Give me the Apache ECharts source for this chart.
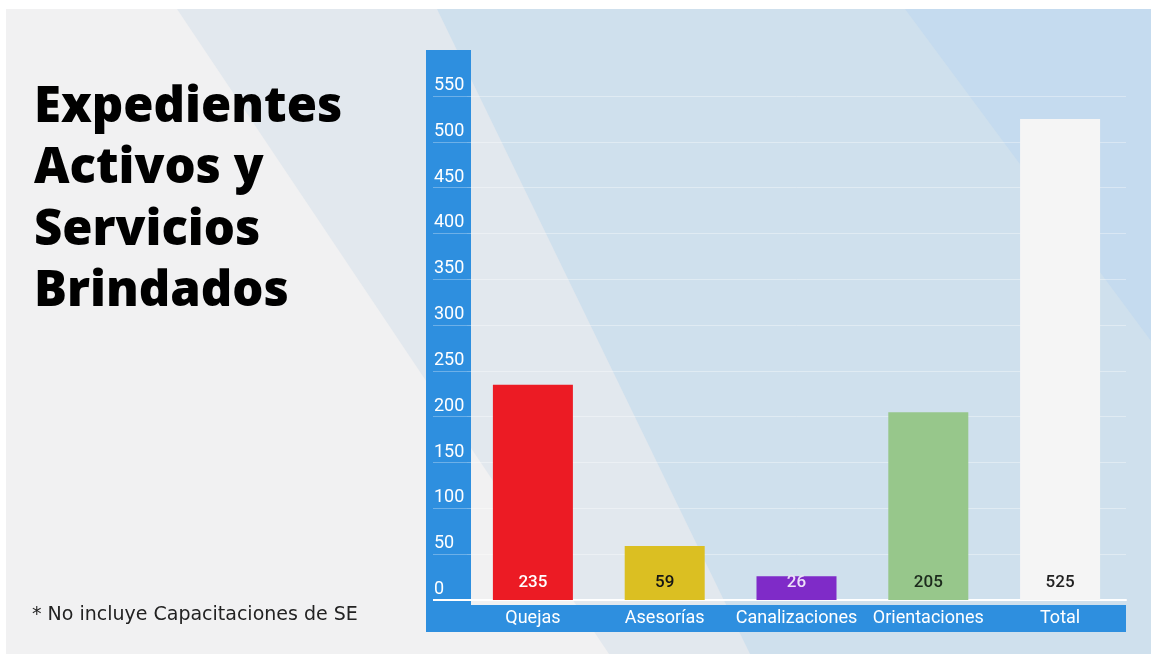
<!DOCTYPE html>
<html>
<head>
<meta charset="utf-8">
<script src="https://cdn.jsdelivr.net/npm/echarts@6/dist/echarts.min.js"></script>
<style>
html,body{margin:0;padding:0;background:#ffffff;}
#c{width:1151px;height:654px;}
</style>
</head>
<body>
<div id="c"></div>
<script>
const categories = ['Quejas', 'Asesorías', 'Canalizaciones', 'Orientaciones', 'Total'];
const values = [235, 59, 26, 205, 525];
const yMin = 0, yMax = 550, yStep = 50;
const titleLines = ['Expedientes', 'Activos y', 'Servicios', 'Brindados'];
const footnote = '* No incluye Capacitaciones de SE';

const barColors = ['#ec1b24', '#dbbf22', '#7f2bc8', '#97c78b', '#f5f5f5'];
const labelColors = ['#ffffff', '#151515', '#ece0f8', '#1c2a1c', '#222222'];

const chart = echarts.init(document.getElementById('c'), null, {renderer: 'canvas'});

const option = {
  backgroundColor: '#ffffff',
  animation: false,
  title: [
    {
      text: titleLines.join('\n'),
      left: 29, top: 72,
      textStyle: {fontFamily: 'Open Sans', fontWeight: 800, fontSize: 49, lineHeight: 61.5, color: '#000000'}
    },
    {
      text: footnote,
      left: 27, top: 601,
      textStyle: {fontFamily: 'DejaVu Sans', fontWeight: 'normal', fontSize: 19, color: '#222222'}
    }
  ],
  graphic: [
    {type: 'rect', z: -100, silent: true, shape: {x: 6, y: 9, width: 1145, height: 645}, style: {fill: '#f1f1f2'}},
    {type: 'polygon', z: -99, silent: true, shape: {points: [[177, 9], [1151, 9], [1151, 654], [609, 654]]}, style: {fill: '#e2e8ee'}},
    {type: 'polygon', z: -98, silent: true, shape: {points: [[437, 9], [1151, 9], [1151, 654], [750, 654]]}, style: {fill: '#cfe0ed'}},
    {type: 'polygon', z: -97, silent: true, shape: {points: [[905, 9], [1151, 9], [1151, 341]]}, style: {fill: '#c5dbef'}},
    {type: 'rect', z: -50, silent: true, shape: {x: 426, y: 50, width: 45, height: 582}, style: {fill: '#2e8fdf'}},
    {type: 'rect', z: -50, silent: true, shape: {x: 426, y: 605, width: 700, height: 27}, style: {fill: '#2e8fdf'}},
    {type: 'line', z: 10, silent: true, shape: {x1: 433, y1: 600, x2: 468, y2: 600}, style: {stroke: '#ffffff', lineWidth: 2}}
  ],
  grid: {left: 467, right: 25, top: 96, bottom: 54, containLabel: false},
  xAxis: {
    type: 'category',
    data: categories,
    axisLine: {show: true, lineStyle: {color: '#ffffff', width: 2}},
    axisTick: {show: false},
    axisLabel: {color: '#ffffff', fontFamily: 'Roboto', fontSize: 18, margin: 9, interval: 0, hideOverlap: false}
  },
  yAxis: {
    type: 'value',
    min: yMin, max: yMax, interval: yStep,
    axisLine: {show: false},
    axisTick: {show: true, length: 34, lineStyle: {color: 'rgba(255,255,255,0.3)', width: 1}},
    splitLine: {show: true, lineStyle: {color: 'rgba(255,255,255,0.35)', width: 1}},
    axisLabel: {
      color: '#ffffff', fontFamily: 'Roboto', fontSize: 18,
      align: 'left', margin: 33, verticalAlign: 'bottom', lineHeight: 21
    }
  },
  series: [{
    type: 'bar',
    barWidth: 80,
    data: values.map((v, i) => ({
      value: v,
      itemStyle: {color: barColors[i]},
      label: {color: labelColors[i]}
    })),
    label: {
      show: true,
      position: 'insideBottom',
      distance: 9,
      fontFamily: 'Roboto', fontWeight: 500, fontSize: 17
    }
  }]
};
chart.setOption(option);
</script>
</body>
</html>
